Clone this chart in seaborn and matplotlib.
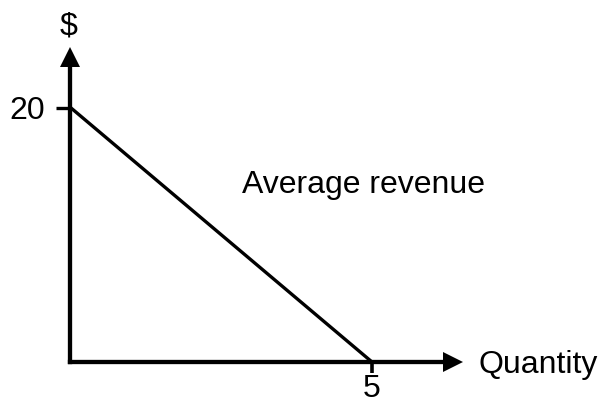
import matplotlib
matplotlib.use("Agg")
import matplotlib.pyplot as plt
import seaborn as sns
import pandas as pd

# Demand / average revenue schedule
quantity = [0, 5]
price = [20, 0]
x_ticks = [5]
x_tick_labels = ["5"]
y_ticks = [20]
y_tick_labels = ["20"]
curve_label = "Average revenue"
x_label = "Quantity"
y_label = "$"

sns.set_theme(style="white")
plt.rcParams["font.family"] = ["Liberation Sans", "DejaVu Sans"]

FS = 23
fig = plt.figure(figsize=(6.04, 4.03), dpi=100)
ax = fig.add_axes([0, 0, 1, 1])
ax.set_xlim(-1.169, 8.847)
ax.set_ylim(-3.222, 28.45)
ax.patch.set_alpha(0)

df = pd.DataFrame({"q": quantity, "p": price})
sns.lineplot(data=df, x="q", y="p", ax=ax, color="black", linewidth=2.4,
             solid_capstyle="butt")

# Axes drawn as spines through the origin, ending in arrowheads
x_end, y_end = 6.18, 23.18
for name in ("top", "right"):
    ax.spines[name].set_visible(False)
for name, end in (("left", y_end), ("bottom", x_end)):
    sp = ax.spines[name]
    sp.set_visible(True)
    sp.set_position(("data", 0))
    sp.set_bounds(0, end)
    sp.set_linewidth(3.1)
    sp.set_color("black")
    sp.set_capstyle("projecting")

ax.plot([6.343], [0], marker=">", markersize=14.4, color="black",
        clip_on=False, markeredgewidth=0)
ax.plot([0], [23.97], marker="^", markersize=14.4, color="black",
        clip_on=False, markeredgewidth=0)

ax.set_xticks(x_ticks, x_tick_labels)
ax.set_yticks(y_ticks, y_tick_labels)
ax.tick_params(axis="x", direction="out", length=7.6, width=2.6, color="black",
               pad=1.0, labelsize=FS, labelcolor="black", bottom=True)
ax.tick_params(axis="y", direction="out", length=9.8, width=2.4, color="black",
               pad=8.5, labelsize=FS, labelcolor="black", left=True)
ax.set_xlabel("")
ax.set_ylabel("")
ax.grid(False)

ax.text(2.84, 13.28, curve_label, fontsize=FS, ha="left", va="baseline",
        color="black")
ax.text(6.76, -0.86, x_label, fontsize=FS, ha="left", va="baseline",
        color="black")
ax.text(-0.04, 25.7, y_label, fontsize=FS, ha="center", va="baseline",
        color="black")

fig.savefig("out.png", dpi=100, facecolor="white")
